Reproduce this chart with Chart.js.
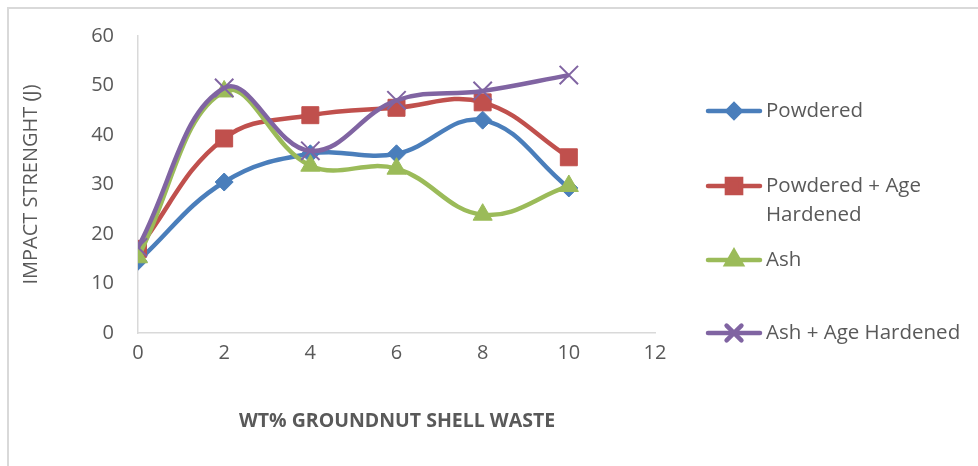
<!DOCTYPE html>
<html>
<head>
<meta charset="utf-8">
<script src="https://cdn.jsdelivr.net/npm/chart.js@4/dist/chart.umd.min.js"></script>
<style>
  html, body { margin: 0; padding: 0; background: #fff; }
  #wrap { width: 978px; height: 466px; }
</style>
</head>
<body>
<div id="wrap"><canvas id="c" width="978" height="466"></canvas></div>
<script>
// Impact strength vs. groundnut shell waste content
const wtPercent = [0, 2, 4, 6, 8, 10];
const powdered = [14.5, 30.5, 36.2, 36.2, 43.0, 29.3];
const powderedAgeHardened = [17.0, 39.3, 44.0, 45.5, 46.6, 35.5];
const ash = [15.3, 48.8, 33.8, 33.2, 23.9, 29.7];
const ashAgeHardened = [17.3, 49.5, 36.8, 47.0, 48.9, 52.1];

const seriesNames = ['Powdered', ['Powdered + Age', 'Hardened'], 'Ash', 'Ash + Age Hardened'];
const xTitle = 'WT% GROUNDNUT SHELL WASTE';
const yTitle = 'IMPACT STRENGHT (J)';

const FONT = '"Open Sans", "DejaVu Sans", sans-serif';
const TEXT = '#595959';

const toPoints = ys => wtPercent.map((x, i) => ({ x, y: ys[i] }));

const styles = [
  { color: '#4A7EBB', point: 'rectRot', radius: 9, legendRadius: 6.5 },
  { color: '#C0504D', point: 'rect', radius: 12, legendRadius: 10 },
  { color: '#9BBB59', point: 'triangle', radius: 11, legendRadius: 8.5 },
  { color: '#8064A2', point: 'crossRot', radius: 13, legendRadius: 10.5 }
];
const values = [powdered, powderedAgeHardened, ash, ashAgeHardened];

const datasets = values.map((ys, i) => ({
  label: Array.isArray(seriesNames[i]) ? seriesNames[i].join(' ') : seriesNames[i],
  data: toPoints(ys),
  showLine: true,
  borderColor: styles[i].color,
  backgroundColor: styles[i].color,
  borderWidth: 4.5,
  tension: 0.4,
  pointStyle: styles[i].point,
  pointRadius: styles[i].radius,
  pointBorderWidth: styles[i].point === 'crossRot' ? 2 : 1,
  pointHoverRadius: styles[i].radius,
  order: values.length - i
}));

// Frame, axis titles and the side legend
const decor = {
  id: 'decor',
  beforeDraw(chart) {
    const ctx = chart.ctx;
    ctx.save();
    ctx.fillStyle = '#fff';
    ctx.fillRect(0, 0, chart.width, chart.height);
    ctx.strokeStyle = '#d9d9d9';
    ctx.lineWidth = 2;
    ctx.beginPath();
    ctx.moveTo(8, chart.height);
    ctx.lineTo(8, 8);
    ctx.lineTo(chart.width, 8);
    ctx.stroke();
    ctx.restore();
  },
  afterDraw(chart) {
    const ctx = chart.ctx;
    const area = chart.chartArea;
    ctx.save();
    ctx.fillStyle = TEXT;
    ctx.textAlign = 'center';
    ctx.textBaseline = 'middle';
    ctx.font = 'bold 19.5px ' + FONT;
    ctx.fillText(xTitle, 397, 421);
    ctx.save();
    ctx.translate(31, (area.top + area.bottom) / 2);
    ctx.rotate(-Math.PI / 2);
    ctx.font = '20px ' + FONT;
    ctx.fillText(yTitle, 0, 0);
    ctx.restore();

    // legend
    const rows = [111, 186, 260, 333];
    ctx.font = '20.5px ' + FONT;
    ctx.textAlign = 'left';
    values.forEach((_, i) => {
      const y = rows[i];
      const st = styles[i];
      ctx.strokeStyle = st.color;
      ctx.lineWidth = 4.5;
      ctx.lineCap = 'round';
      ctx.beginPath();
      ctx.moveTo(708, y);
      ctx.lineTo(760, y);
      ctx.stroke();
      ctx.fillStyle = st.color;
      Chart.helpers.drawPoint(ctx, {
        pointStyle: st.point,
        radius: st.legendRadius,
        borderWidth: st.point === 'crossRot' ? 2 : 1,
        rotation: 0
      }, 734, y);
      ctx.fillStyle = TEXT;
      const lines = Array.isArray(seriesNames[i]) ? seriesNames[i] : [seriesNames[i]];
      lines.forEach((t, k) => ctx.fillText(t, 766, y + k * 29));
    });
    ctx.restore();
  }
};

new Chart(document.getElementById('c'), {
  type: 'scatter',
  data: { datasets },
  options: {
    responsive: false,
    animation: false,
    layout: { padding: { top: 36, right: 323, left: 0, bottom: 0 } },
    plugins: { legend: { display: false }, tooltip: { enabled: false } },
    scales: {
      x: {
        type: 'linear',
        min: 0, max: 12,
        afterFit(s) { s.height = 133; },
        grid: { display: false, drawTicks: false },
        border: { display: true, color: '#d9d9d9', width: 1.5 },
        ticks: { stepSize: 2, color: TEXT, padding: 8, font: { family: FONT, size: 20 } }
      },
      y: {
        min: 0, max: 60,
        afterFit(s) { s.width = 138; },
        grid: { display: false, drawTicks: false },
        border: { display: true, color: '#d9d9d9', width: 1.5 },
        ticks: { stepSize: 10, color: TEXT, padding: 24, font: { family: FONT, size: 20 } }
      }
    }
  },
  plugins: [decor]
});
</script>
</body>
</html>
